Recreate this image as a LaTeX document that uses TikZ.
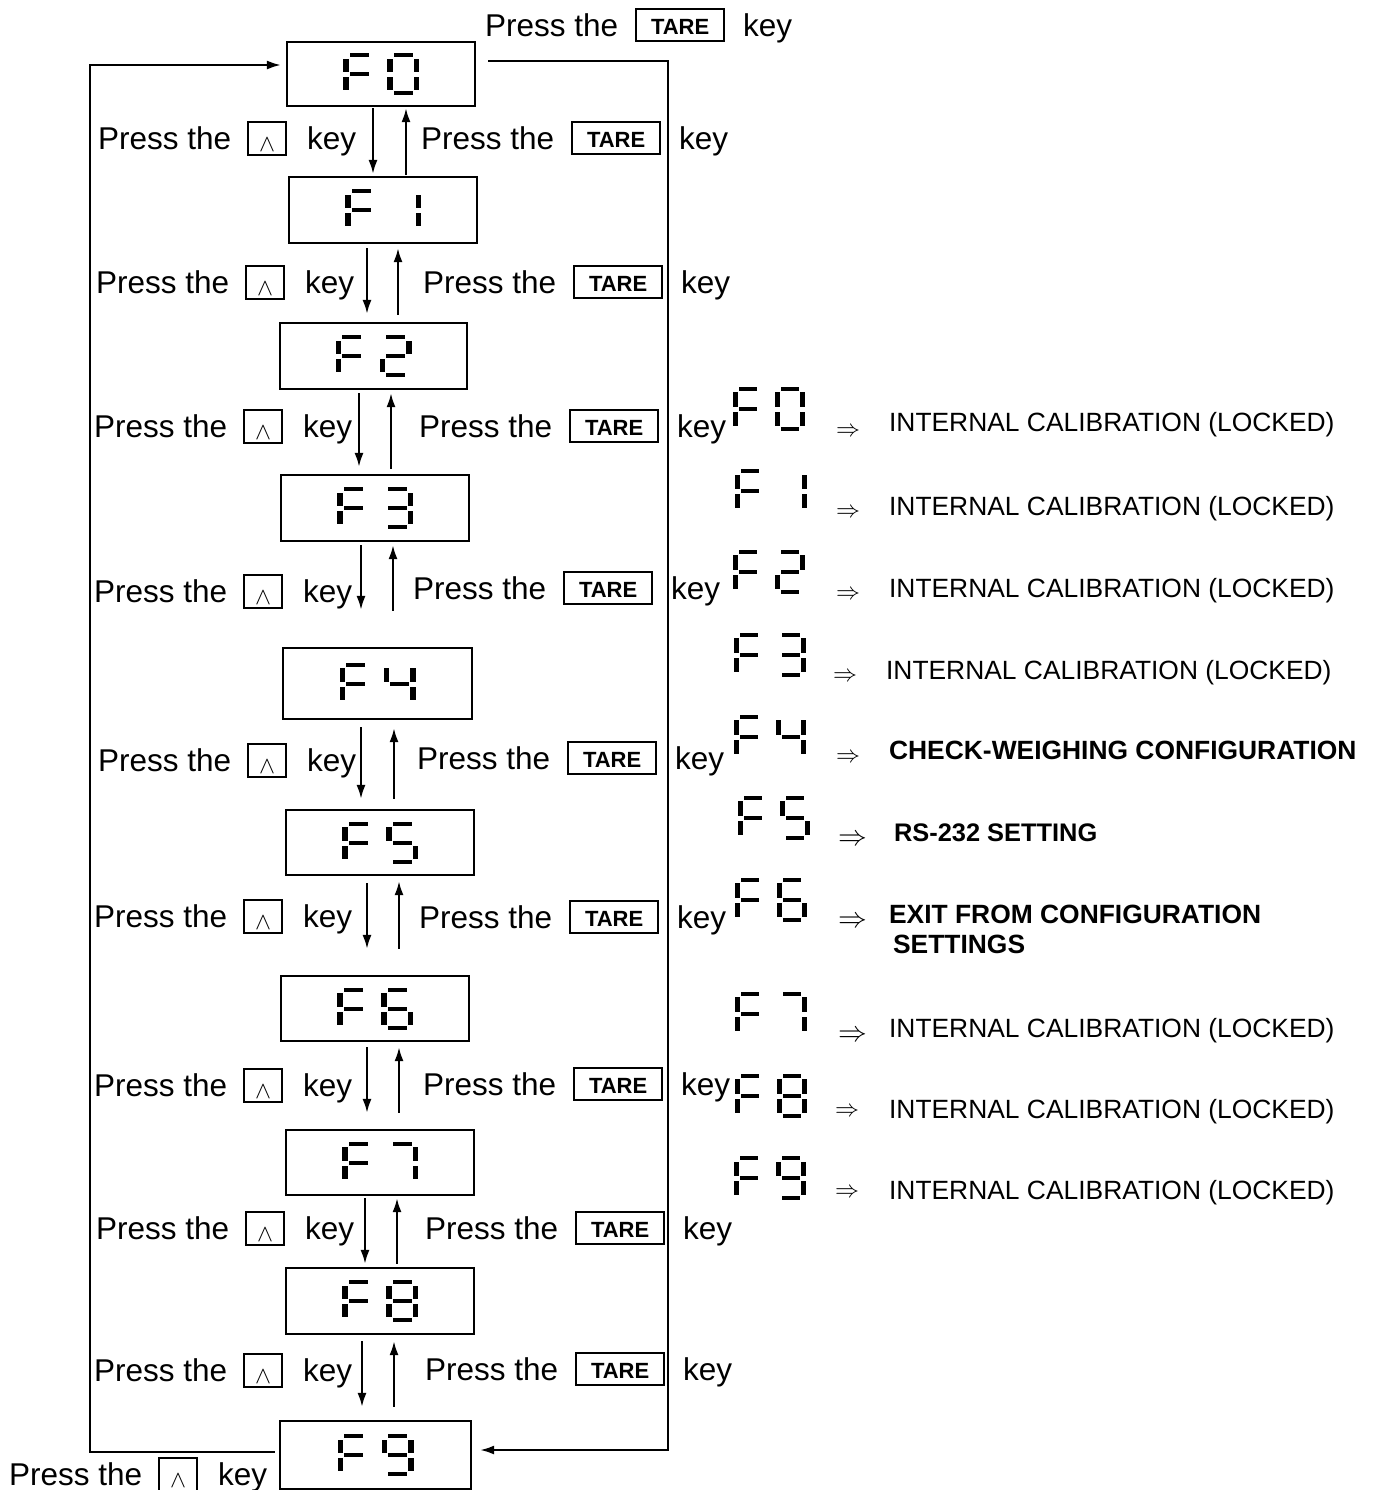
\documentclass[tikz,border=0pt]{standalone}
\usepackage{fontspec}
\setmainfont{Liberation Sans}
\usetikzlibrary{arrows.meta,calc}

\newcommand\upkey{{\setlength\fboxsep{0pt}\setlength\fboxrule{1pt}\fbox{\rule[-2.5pt]{0pt}{15.5pt}\makebox[18pt]{\raisebox{-1pt}{\fontsize{13}{13}\selectfont$\wedge$}}}}}
\newcommand\tarekey{{\setlength\fboxsep{0pt}\setlength\fboxrule{1pt}\fbox{\rule[-2pt]{0pt}{15pt}\makebox[43pt]{\raisebox{1pt}{\fontsize{11}{11}\selectfont\bfseries TARE}}}}}
\newcommand\upline{Press the\hspace{8pt}\upkey\hspace{10pt}key}
\newcommand\tareline{Press the\hspace{8.5pt}\tarekey\hspace{9pt}key}

% seven-segment pieces (origin top-left, y downwards)
\def\sga{\fill ({\gv+1},0) rectangle ({\gw-\gv-1},\gt);}
\def\sgb{\fill ({\gw-\gv},{\gt+1.5}) rectangle (\gw,{\gh/2-\gt/2});}
\def\sgc{\fill ({\gw-\gv},{\gh/2+\gt/2+1}) rectangle (\gw,{\gh-\gt-1});}
\def\sgd{\fill ({\gv+1},{\gh-\gt}) rectangle ({\gw-\gv-1},\gh);}
\def\sge{\fill (0,{\gh/2+\gt/2+1}) rectangle (\gv,{\gh-\gt-1});}
\def\sgf{\fill (0,{\gt+1.5}) rectangle (\gv,{\gh/2-\gt/2});}
\def\sgg{\fill ({\gv+1},{\gh/2-\gt/2}) rectangle ({\gw-\gv-1},{\gh/2+\gt/2});}
\newcommand\dig[3]{\begin{scope}[shift={(#1,#2)}]\foreach \segname in {#3}{\csname sg\segname\endcsname}\end{scope}}
\newcommand\glyphpair[2]{\begin{scope}[shift={(#1)}]
  \dig{{-(\gs+\gw)/2}}{{-\gh/2}}{a,e,f,g}
  \dig{{-(\gs+\gw)/2+\gs}}{{-\gh/2}}{#2}
\end{scope}}
\newcommand\updown[8]{%
\draw[arr,shorten <={#5*0.5pt},shorten >={#6*0.5pt}] (#3,0 |- #1.south) -- (#3,0 |- #2.north);
\draw[arr,shorten <={#7*0.5pt},shorten >={#8*0.5pt}] (#4,0 |- #2.north) -- (#4,0 |- #1.south);}

\begin{document}
\begin{tikzpicture}[x=0.5pt,y=-0.5pt,line width=1.1pt,
  disp/.style={draw,line width=1.1pt,inner sep=0},
  arr/.style={-{Latex[length=7pt,width=4.5pt]},line width=1.1pt},
  lbl/.style={anchor=base west,inner sep=0,font=\fontsize{15.75}{18}\selectfont},
  leg/.style={anchor=base west,inner sep=0,font=\fontsize{13.2}{15}\selectfont},
  legb/.style={anchor=base west,inner sep=0,font=\fontsize{13.2}{15}\selectfont\bfseries},
  imp/.style={inner sep=0,font=\fontsize{12}{12}\selectfont},
  impb/.style={inner sep=0,font=\fontsize{13.5}{13.5}\selectfont}]
\useasboundingbox (0,0) rectangle (1376,1490);

% display boxes
\node[disp,minimum width=94pt,minimum height=32pt] (d0) at (381,74) {};
\node[disp,minimum width=94pt,minimum height=33pt] (d1) at (383,210) {};
\node[disp,minimum width=93.5pt,minimum height=33pt] (d2) at (373.5,356) {};
\node[disp,minimum width=94pt,minimum height=33pt] (d3) at (375,508) {};
\node[disp,minimum width=94.5pt,minimum height=35.5pt] (d4) at (377.5,683.5) {};
\node[disp,minimum width=94pt,minimum height=32.5pt] (d5) at (380,842.5) {};
\node[disp,minimum width=94pt,minimum height=32.5pt] (d6) at (375,1008.5) {};
\node[disp,minimum width=94pt,minimum height=32.5pt] (d7) at (380,1162.5) {};
\node[disp,minimum width=94pt,minimum height=33pt] (d8) at (380,1301) {};
\node[disp,minimum width=95.5pt,minimum height=34pt] (d9) at (375.5,1455) {};

% display glyphs
\def\gw{32}\def\gh{42}\def\gv{5.5}\def\gt{4}\def\gs{44}
\glyphpair{d0.center}{a,b,c,d,e,f}
\glyphpair{d1.center}{b,c}
\glyphpair{d2.center}{a,b,g,e,d}
\glyphpair{d3.center}{a,b,g,c,d}
\glyphpair{d4.center}{f,g,b,c}
\glyphpair{d5.center}{a,f,g,c,d}
\glyphpair{d6.center}{a,f,g,e,c,d}
\glyphpair{d7.center}{a,b,c}
\glyphpair{d8.center}{a,b,c,d,e,f,g}
\glyphpair{d9.center}{a,b,c,d,f,g}

% arrows between displays
\updown{d0}{d1}{373}{406}{1}{2}{1}{1}
\updown{d1}{d2}{367}{398}{4}{8}{7}{4}
\updown{d2}{d3}{359}{391}{3}{7}{5}{3}
\updown{d3}{d4}{361}{393}{3}{37}{36}{3}
\updown{d4}{d5}{361}{394}{7}{10}{10}{8}
\updown{d5}{d6}{367}{399}{7}{26}{26}{5}
\updown{d6}{d7}{367}{399}{5}{16}{16}{5}
\updown{d7}{d8}{365}{397}{2}{3}{3}{2}
\updown{d8}{d9}{362}{394}{6}{13}{13}{6}

% outer loops
\draw[arr] ([xshift=-2pt,yshift=1.5pt]d9.west) -| (90,65) -- ([xshift=-2.5pt,yshift=4.5pt]d0.west);
\draw[arr] ([xshift=6pt,yshift=6.5pt]d0.east) -| (668,1450) -- ([xshift=4pt,yshift=2.5pt]d9.east);

% labels
\node[lbl] (l1) at (97,149) {\upline};
\node[lbl] (l2) at (95,293) {\upline};
\node[lbl] (l3) at (93,437) {\upline};
\node[lbl] (l4) at (93,602) {\upline};
\node[lbl] (l5) at (97,771) {\upline};
\node[lbl] (l6) at (93,927) {\upline};
\node[lbl] (l7) at (93,1096) {\upline};
\node[lbl] (l8) at (95,1239) {\upline};
\node[lbl] (l9) at (93,1381) {\upline};
\node[lbl] (lb) at (8,1485) {\upline};
\node[lbl] (r1) at (420,149) {\tareline};
\node[lbl] (r2) at (422,293) {\tareline};
\node[lbl] (r3) at (418,437) {\tareline};
\node[lbl] (r4) at (412,599) {\tareline};
\node[lbl] (r5) at (416,769) {\tareline};
\node[lbl] (r6) at (418,928) {\tareline};
\node[lbl] (r7) at (422,1095) {\tareline};
\node[lbl] (r8) at (424,1239) {\tareline};
\node[lbl] (r9) at (424,1380) {\tareline};
\node[lbl] (rt) at (484,36) {\tareline};

% legend glyphs
\def\gw{30}\def\gh{44}\def\gv{5}\def\gt{4}\def\gs{42}
\glyphpair{769,408.5}{a,b,c,d,e,f}
\glyphpair{771,491}{b,c}
\glyphpair{769,571.5}{a,b,g,e,d}
\glyphpair{770,654.5}{a,b,g,c,d}
\glyphpair{769.5,736.5}{f,g,b,c}
\glyphpair{773.5,817.5}{a,f,g,c,d}
\glyphpair{770.5,899.5}{a,f,g,e,c,d}
\glyphpair{770.5,1013.5}{a,b,c}
\glyphpair{770.5,1095.5}{a,b,c,d,e,f,g}
\glyphpair{770,1178}{a,b,c,d,f,g}

% legend arrows
\node[imp] (e0) at (848,432) {$\Rightarrow$};
\node[imp] (e1) at (848,513) {$\Rightarrow$};
\node[imp] (e2) at (848,595) {$\Rightarrow$};
\node[imp] (e3) at (845,677) {$\Rightarrow$};
\node[imp] (e4) at (848,758) {$\Rightarrow$};
\node[impb] (e5) at (853,840) {$\Rightarrow$};
\node[impb] (e6) at (853,922) {$\Rightarrow$};
\node[impb] (e7) at (853,1036) {$\Rightarrow$};
\node[imp] (e8) at (847,1112) {$\Rightarrow$};
\node[imp] (e9) at (847,1193) {$\Rightarrow$};

% legend texts
\node[leg] (t0) at (888,431.5) {INTERNAL CALIBRATION (LOCKED)};
\node[leg] (t1) at (888,515.5) {INTERNAL CALIBRATION (LOCKED)};
\node[leg] (t2) at (888,597.5) {INTERNAL CALIBRATION (LOCKED)};
\node[leg] (t3) at (885,679.5) {INTERNAL CALIBRATION (LOCKED)};
\node[legb] (t4) at (888,759.5) {CHECK-WEIGHING CONFIGURATION};
\node[legb,font=\fontsize{12.7}{14}\selectfont\bfseries] (t5) at (893,841) {RS-232 SETTING};
\node[legb] (t6) at (888,923.5) {EXIT FROM CONFIGURATION};
\node[legb] (t6b) at (892,953.5) {SETTINGS};
\node[leg] (t7) at (888,1037.5) {INTERNAL CALIBRATION (LOCKED)};
\node[leg] (t8) at (888,1118.5) {INTERNAL CALIBRATION (LOCKED)};
\node[leg] (t9) at (888,1199.5) {INTERNAL CALIBRATION (LOCKED)};
\end{tikzpicture}
\end{document}
